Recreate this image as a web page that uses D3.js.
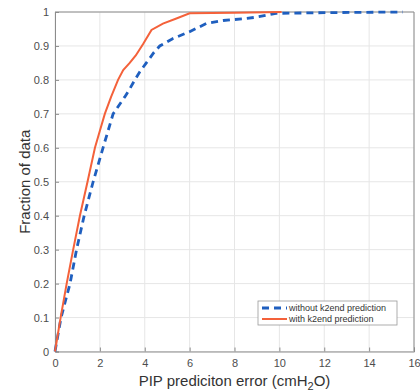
<!DOCTYPE html>
<html>
<head>
<meta charset="utf-8">
<script src="https://cdn.jsdelivr.net/npm/d3@7"></script>
<style>
  body { margin: 0; background: #fff; }
  svg text { font-family: "Liberation Sans", Arial, sans-serif; }
</style>
</head>
<body>
<div id="chart"></div>
<script>
// error values (cmH2O) and cumulative fractions
const errWithout = [0, 0.27, 0.67, 0.96, 1.3, 1.7, 2.14, 2.59, 3.11, 3.3, 3.56, 3.78, 4.07, 4.4, 4.67, 5.26, 6.0, 6.74, 7.5, 8.4, 9.0, 9.85, 12, 15.5];
const fracWithout = [0, 0.1, 0.2, 0.3, 0.4, 0.5, 0.6, 0.7, 0.75, 0.77, 0.8, 0.824, 0.85, 0.88, 0.9, 0.922, 0.942, 0.966, 0.975, 0.98, 0.985, 0.996, 0.998, 1.0];

const errWith = [0, 0.25, 0.52, 0.81, 1.11, 1.45, 1.78, 2.0, 2.22, 2.5, 2.81, 3.04, 3.33, 3.6, 3.92, 4.3, 4.81, 5.41, 6.0, 8.0, 10.1];
const fracWith = [0, 0.1, 0.2, 0.3, 0.4, 0.5, 0.6, 0.65, 0.7, 0.75, 0.8, 0.829, 0.85, 0.872, 0.905, 0.947, 0.966, 0.981, 0.996, 0.998, 1.0];

const xTicks = [0, 2, 4, 6, 8, 10, 12, 14, 16];
const yTicks = [0, 0.1, 0.2, 0.3, 0.4, 0.5, 0.6, 0.7, 0.8, 0.9, 1];

const series = [
    {name: 'without k2end prediction', xs: errWithout, ys: fracWithout, color: '#1f5fbf', dash: '7,5', width: 2.8},
    {name: 'with k2end prediction', xs: errWith, ys: fracWith, color: '#f4613a', dash: null, width: 2}
];

const width = 420, height = 392;
const margin = {top: 12, right: 6, bottom: 40.5, left: 55};

const svg = d3.select('#chart').append('svg')
    .attr('width', width).attr('height', height);

const x = d3.scaleLinear().domain([0, 16]).range([margin.left, width - margin.right]);
const y = d3.scaleLinear().domain([0, 1]).range([height - margin.bottom, margin.top]);

// grid
svg.append('g').selectAll('line').data(xTicks).enter().append('line')
    .attr('x1', d => x(d)).attr('x2', d => x(d))
    .attr('y1', y(0)).attr('y2', y(1))
    .attr('stroke', '#e6e6e6').attr('stroke-width', 1);
svg.append('g').selectAll('line').data(yTicks).enter().append('line')
    .attr('x1', x(0)).attr('x2', x(16))
    .attr('y1', d => y(d)).attr('y2', d => y(d))
    .attr('stroke', '#e6e6e6').attr('stroke-width', 1);

// axes
const xAxis = svg.append('g')
    .attr('transform', `translate(0,${y(0)})`)
    .call(d3.axisBottom(x).tickValues(xTicks).tickSize(-4).tickPadding(8).tickFormat(d3.format('d')));
const yAxis = svg.append('g')
    .attr('transform', `translate(${x(0)},0)`)
    .call(d3.axisLeft(y).tickValues(yTicks).tickSize(-4).tickPadding(6).tickFormat(d => d === 0 || d === 1 ? d : d3.format('.1f')(d)));

[xAxis, yAxis].forEach(g => {
    g.select('.domain').attr('stroke', '#8c8c8c');
    g.selectAll('.tick line').attr('stroke', '#8c8c8c');
    g.selectAll('.tick text').attr('fill', '#4d4d4d').attr('font-size', '11px')
        .style('font-family', '"Liberation Sans", Arial, sans-serif');
});

// top & right box lines
svg.append('line').attr('x1', x(0)).attr('x2', x(16)).attr('y1', y(1)).attr('y2', y(1)).attr('stroke', '#8c8c8c');
svg.append('line').attr('x1', x(16)).attr('x2', x(16)).attr('y1', y(0)).attr('y2', y(1)).attr('stroke', '#8c8c8c');

// curves
const line = d3.line().x(d => x(d[0])).y(d => y(d[1]));
series.forEach(s => {
    svg.append('path')
        .datum(s.xs.map((v, i) => [v, s.ys[i]]))
        .attr('d', line)
        .attr('fill', 'none')
        .attr('stroke', s.color)
        .attr('stroke-width', s.width)
        .attr('stroke-dasharray', s.dash);
});

// legend
const lg = svg.append('g').attr('transform', 'translate(258,301)');
lg.append('rect').attr('width', 139).attr('height', 24)
    .attr('fill', '#fff').attr('stroke', '#9a9a9a').attr('stroke-width', 0.8);
series.forEach((s, i) => {
    const yy = 7 + i * 11;
    lg.append('line').attr('x1', 4).attr('x2', 29).attr('y1', yy).attr('y2', yy)
        .attr('stroke', s.color).attr('stroke-width', s.width)
        .attr('stroke-dasharray', s.dash);
    lg.append('text').attr('x', 31).attr('y', yy + 3)
        .attr('font-size', '9px').attr('fill', '#333').text(s.name);
});

// axis labels
const xl = svg.append('text')
    .attr('x', (x(0) + x(16)) / 2).attr('y', 386)
    .attr('text-anchor', 'middle').attr('font-size', '15px').attr('fill', '#333');
xl.append('tspan').text('PIP prediciton error (cmH');
xl.append('tspan').attr('font-size', '11px').attr('dy', 4).text('2');
xl.append('tspan').attr('dy', -4).text('O)');

svg.append('text')
    .attr('transform', `translate(30,${(y(0) + y(1)) / 2}) rotate(-90)`)
    .attr('text-anchor', 'middle').attr('font-size', '15px').attr('fill', '#333')
    .text('Fraction of data');
</script>
</body>
</html>
